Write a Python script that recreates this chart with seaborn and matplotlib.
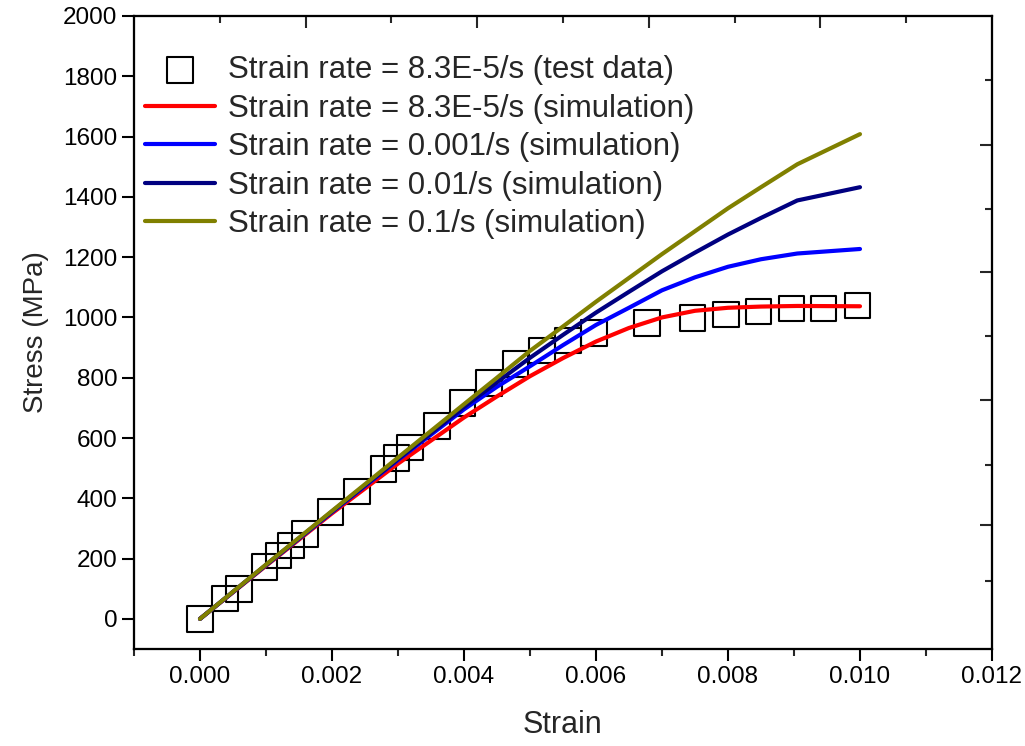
#!/usr/bin/env python
"""
Stress-strain curves: test data vs. simulations at several strain rates.
"""
import numpy as np
import pandas as pd
import matplotlib
matplotlib.use("Agg")
import matplotlib.pyplot as plt
import seaborn as sns

# test data (strain rate = 8.3E-5/s)
test_strain = [0.0, 0.00038, 0.00059, 0.00098, 0.00119, 0.00138, 0.00159, 0.00198,
               0.00238, 0.00278, 0.00298, 0.00318, 0.00359, 0.00398, 0.00438, 0.00478,
               0.00518, 0.00558, 0.00597, 0.00677, 0.00746, 0.00797, 0.00846, 0.00896,
               0.00945, 0.00996]
test_stress = [0, 68, 100, 172, 210, 243, 282, 354, 422, 498, 534, 568, 640, 716, 782,
               846, 890, 923, 949, 982, 999, 1010, 1020, 1030, 1030, 1040]

# simulation curves
sim_strain = [0.0, 0.001, 0.002, 0.003, 0.004, 0.0045, 0.005, 0.0055, 0.006, 0.0065,
              0.007, 0.0075, 0.008, 0.0085, 0.00905, 0.010]
sim_8e5 = [0, 176, 350, 515, 668, 738, 805, 865, 920, 965, 1000, 1022, 1032, 1036, 1038, 1037]
sim_0001 = [0, 178, 354, 527, 695, 770, 838, 908, 975, 1032, 1090, 1133, 1168, 1193, 1212, 1227]
sim_001 = [0, 179, 356, 530, 703, 785, 866, 942, 1016, 1085, 1153, 1215, 1275, 1330, 1388, 1432]
sim_01 = [0, 180, 358, 535, 712, 800, 889, 970, 1052, 1131, 1210, 1286, 1362, 1432, 1508, 1608]

series_labels = ["Strain rate = 8.3E-5/s (simulation)",
                 "Strain rate = 0.001/s (simulation)",
                 "Strain rate = 0.01/s (simulation)",
                 "Strain rate = 0.1/s (simulation)"]
series_colors = ["#ff0000", "#0000ff", "#000080", "#808000"]
test_label = "Strain rate = 8.3E-5/s (test data)"

# odd tick positions on the top / right frame
top_ticks_long = [0.0016, 0.0042, 0.0068, 0.0094]
top_ticks_short = [0.0003, 0.0029, 0.0055, 0.0081, 0.0107]
right_ticks_long = [313, 727, 1150, 1573]
right_ticks_short = [127, 510, 937, 1360, 1788]

sns.set_theme(style="ticks")
plt.rcParams['font.family'] = ['Liberation Sans', 'DejaVu Sans']
plt.rcParams['axes.linewidth'] = 1.5

fig = plt.figure(figsize=(10.25, 7.46), dpi=100)
ax = fig.add_axes([0.1307, 0.130, 0.8371, 0.8486])

test_df = pd.DataFrame({"strain": test_strain, "stress": test_stress})
sns.scatterplot(data=test_df, x="strain", y="stress", marker="s", s=340,
                facecolor="none", edgecolor="black", linewidth=1.5,
                label=test_label, ax=ax, zorder=2)

sim_values = [sim_8e5, sim_0001, sim_001, sim_01]
for vals, lab, col in zip(sim_values, series_labels, series_colors):
    df = pd.DataFrame({"strain": sim_strain, "stress": vals})
    sns.lineplot(data=df, x="strain", y="stress", color=col, linewidth=3,
                 label=lab, sort=False, estimator=None, ax=ax, zorder=3)

ax.set_xlim(-0.001, 0.012)
ax.set_ylim(-100, 2000)
ax.set_xticks(np.arange(0, 0.0121, 0.002))
ax.set_xticks(np.arange(-0.001, 0.0121, 0.001), minor=True)
ax.set_yticks(np.arange(0, 2001, 200))
ax.set_xticklabels([f"{v:.3f}" for v in np.arange(0, 0.0121, 0.002)])
ax.tick_params(axis="both", which="major", direction="out", length=8.5, width=1.5,
               labelsize=17.5, colors="black")
ax.tick_params(axis="x", which="minor", direction="out", length=5, width=1.5)
ax.tick_params(top=False, right=False)
ax.set_xlabel("Strain", fontsize=22, labelpad=16)
ax.set_ylabel("Stress (MPa)", fontsize=20, labelpad=10)
for sp in ax.spines.values():
    sp.set_visible(True)
    sp.set_linewidth(1.5)
    sp.set_color("black")

# top frame ticks
ax_top = ax.twiny()
ax_top.set_xlim(ax.get_xlim())
ax_top.set_xticks(top_ticks_long)
ax_top.set_xticks(top_ticks_short, minor=True)
ax_top.tick_params(axis="x", which="major", direction="in", length=8.5, width=1.5,
                   labeltop=False)
ax_top.tick_params(axis="x", which="minor", direction="in", length=5, width=1.5)

# right frame ticks
ax_right = ax.twinx()
ax_right.set_ylim(ax.get_ylim())
ax_right.set_yticks(right_ticks_long)
ax_right.set_yticks(right_ticks_short, minor=True)
ax_right.tick_params(axis="y", which="major", direction="in", length=8.5, width=1.5,
                     labelright=False)
ax_right.tick_params(axis="y", which="minor", direction="in", length=5, width=1.5)
for a in (ax_top, ax_right):
    for sp in a.spines.values():
        sp.set_linewidth(1.5)
        sp.set_color("black")

handles, labels = ax.get_legend_handles_labels()
ax.legend(handles, labels, loc="upper left", bbox_to_anchor=(0.013, 0.9376),
          frameon=False, fontsize=22.5, handlelength=2.25, handletextpad=0.4,
          labelspacing=0.27, borderpad=0, borderaxespad=0)

fig.savefig("out.png", dpi=100)
